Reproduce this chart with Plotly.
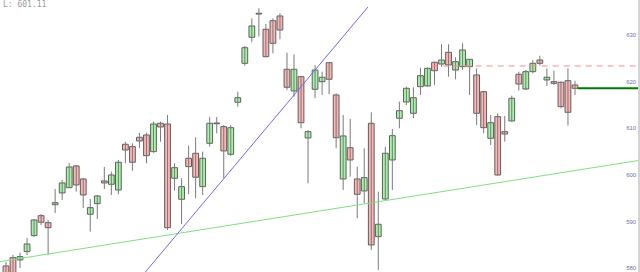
import plotly.graph_objects as go

# ---- data ----
idx = list(range(-1, 81))
opens = [580.51, 582.28, 581.79, 583.57, 586.99, 591.27, 589.77, 593.62, 596.13, 597.26,
         601.91, 599.12, 591.57, 593.84, 598.70, 597.99, 596.77, 606.55, 606.04, 608.05,
         608.54, 604.97, 611.04, 610.89, 599.27, 594.78, 603.55, 604.62, 597.48, 606.76,
         611.11, 610.32, 604.41, 615.54, 623.88, 629.45, 634.58, 631.16, 633.00, 634.01,
         622.60, 617.96, 621.02, 607.90, 618.32, 619.95, 624.01, 617.10, 599.12, 605.82,
         599.12, 596.56, 611.04, 586.78, 594.84, 603.19, 612.11, 615.60, 613.18, 618.88,
         619.03, 624.10, 623.73, 626.24, 622.45, 623.16, 623.16, 621.38, 617.81, 607.83,
         612.46, 609.25, 611.54, 621.53, 618.38, 622.09, 624.59, 620.31, 619.95, 619.82,
         620.16, 619.24]
highs = [581.36, 582.86, 583.35, 586.50, 590.56, 591.63, 590.35, 596.98, 598.91, 602.55,
         602.12, 599.34, 594.84, 595.70, 601.69, 600.69, 603.19, 607.11, 606.76, 608.97,
         609.03, 611.39, 611.39, 612.82, 602.48, 599.27, 606.25, 608.05, 604.97, 612.39,
         612.39, 610.68, 610.68, 617.81, 627.59, 633.51, 635.65, 632.29, 633.51, 634.58,
         626.15, 625.81, 621.17, 609.61, 623.52, 622.09, 624.10, 617.46, 612.82, 611.96,
         601.76, 605.69, 613.40, 596.41, 606.04, 609.82, 615.67, 618.88, 618.75, 622.94,
         623.03, 624.23, 627.95, 627.95, 625.17, 628.16, 624.80, 622.81, 617.90, 612.82,
         613.18, 612.61, 616.95, 622.09, 622.45, 624.59, 625.51, 622.81, 622.30, 620.00,
         622.81, 620.16]
lows = [576.87, 577.51, 580.08, 582.86, 586.71, 589.28, 582.86, 591.85, 594.63, 597.20,
        596.41, 592.92, 587.85, 590.56, 596.98, 595.70, 595.85, 602.48, 600.90, 605.76,
        602.48, 604.75, 607.11, 588.21, 596.62, 589.49, 595.85, 594.99, 595.70, 606.04,
        608.90, 599.27, 604.05, 614.60, 623.37, 628.38, 629.58, 625.17, 626.02, 629.02,
        618.17, 616.74, 609.97, 598.20, 616.39, 617.10, 617.25, 605.69, 596.77, 599.62,
        590.71, 593.92, 583.93, 579.65, 594.63, 596.77, 609.97, 614.96, 612.11, 617.10,
        618.88, 619.24, 623.16, 621.02, 620.46, 622.45, 617.10, 610.68, 608.90, 606.40,
        599.80, 607.11, 611.40, 618.02, 618.17, 621.74, 623.37, 619.03, 619.24, 614.25,
        610.53, 617.10]
closes = [577.51, 578.37, 582.50, 585.21, 590.35, 589.86, 588.70, 594.05, 598.27, 601.69,
          597.84, 595.70, 592.98, 595.49, 598.27, 599.98, 602.70, 605.33, 602.70, 607.26,
          604.11, 610.89, 610.25, 588.70, 601.54, 597.48, 601.76, 599.49, 603.55, 611.04,
          610.94, 605.12, 610.10, 616.52, 627.22, 631.87, 634.43, 625.30, 628.16, 631.01,
          618.75, 622.60, 611.17, 609.25, 622.45, 620.89, 620.46, 607.96, 608.33, 603.19,
          595.85, 599.40, 585.00, 589.43, 604.62, 608.39, 613.74, 618.53, 616.52, 621.23,
          622.81, 622.30, 624.59, 623.52, 624.23, 626.73, 624.74, 613.18, 610.10, 611.17,
          599.98, 608.75, 616.39, 619.45, 622.09, 623.88, 623.88, 620.89, 619.60, 614.60,
          613.40, 618.53]

# drawn studies
trend_blue_x = [18.5, 50.53]
trend_blue_y = [578.60, 635.93]
trend_green_x = [-1.85, 89.25]
trend_green_y = [581.43, 603.13]
resist_x = [59.6, 89.25]
resist_y = [623.31, 623.31]
last_x = [80.4, 89.25]
last_y = [618.53, 618.53]
y_ticks = [580, 590, 600, 610, 620, 630]
header_text = "L: 601.11"

UP_FILL = "#a3f5a3"
DN_FILL = "#ffb3b3"
EDGE = "#5e5e5e"

fig = go.Figure()

# wicks
wx, wy = [], []
for i, h, l in zip(idx, highs, lows):
    wx += [i, i, None]
    wy += [l, h, None]
fig.add_trace(go.Scatter(x=wx, y=wy, mode="lines",
                         line=dict(color="#7a7a7a", width=1), hoverinfo="skip"))

# bodies
bases = [min(o, c) for o, c in zip(opens, closes)]
heights = [max(abs(c - o), 0.12) for o, c in zip(opens, closes)]
colors = [UP_FILL if c > o else DN_FILL for o, c in zip(opens, closes)]
fig.add_trace(go.Bar(x=idx, y=heights, base=bases, width=0.82,
                     marker=dict(color=colors, line=dict(color=EDGE, width=1))))

# lines
fig.add_trace(go.Scatter(x=trend_green_x, y=trend_green_y, mode="lines",
                         line=dict(color="#7fe07f", width=1)))
fig.add_trace(go.Scatter(x=trend_blue_x, y=trend_blue_y, mode="lines",
                         line=dict(color="#6b6bf5", width=1)))
fig.add_trace(go.Scatter(x=resist_x, y=resist_y, mode="lines",
                         line=dict(color="#ff8a8a", width=1, dash="6px,5px")))
fig.add_trace(go.Scatter(x=last_x, y=last_y, mode="lines",
                         line=dict(color="#007a00", width=2)))

fig.add_annotation(text=header_text, xref="paper", yref="paper", x=0.0, y=1.0,
                   xanchor="left", yanchor="top", xshift=1, yshift=2,
                   showarrow=False, font=dict(family="DejaVu Sans Mono", size=8, color="#9a9a9a"))

fig.update_layout(
    width=640, height=272,
    margin=dict(l=0, r=2, t=0, b=0),
    paper_bgcolor="white", plot_bgcolor="white",
    showlegend=False, barmode="overlay",
    xaxis=dict(range=[-1.85, 88.97], visible=False, fixedrange=True),
    yaxis=dict(range=[579.21, 637.43], side="right", showgrid=False, zeroline=False,
               tickvals=y_ticks, ticks="", ticklabelposition="inside",
               tickfont=dict(family="Liberation Sans", size=6, color="#7070a8"),
               showline=True, linecolor="#d4d4d4", linewidth=2),
)

fig.write_html("out.html")
